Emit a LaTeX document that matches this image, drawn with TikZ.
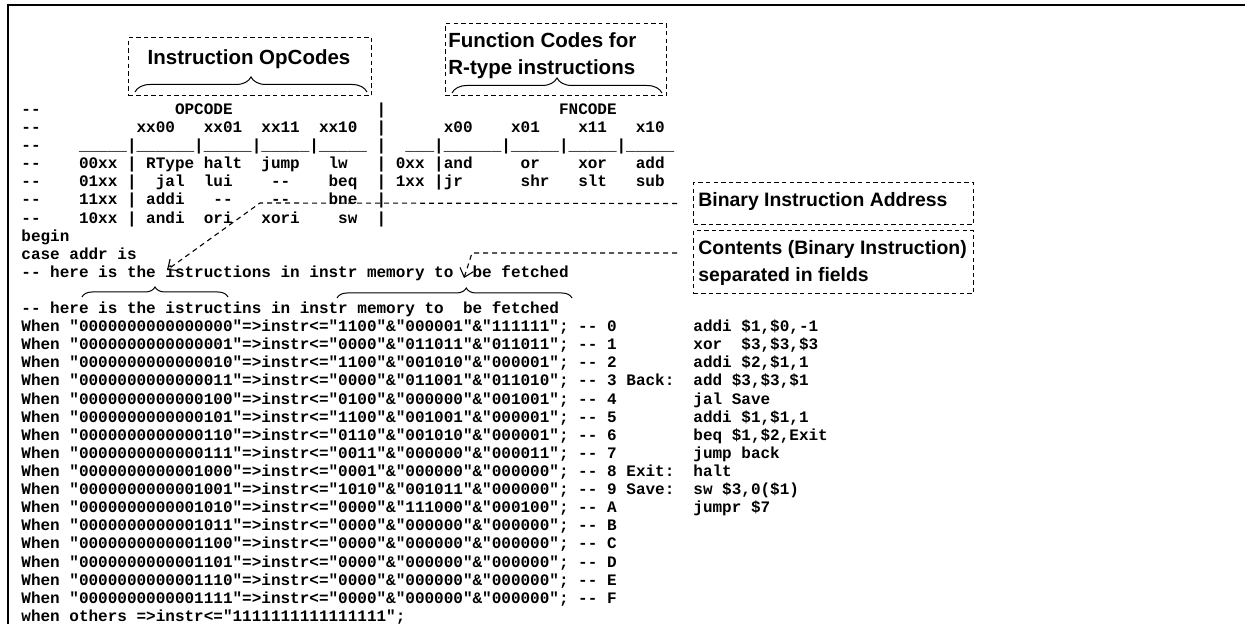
\documentclass[tikz,border=0pt]{standalone}
\usepackage{fontspec}
\setmainfont{Liberation Sans}
\setmonofont{Liberation Mono}
\usetikzlibrary{arrows.meta,positioning,calc,decorations.pathreplacing}

% n empty cells of the (monospaced) code font
\newcommand\blanks[1]{\hspace*{#1\fontcharwd\font`\0}}
% one entry of the instruction ROM
\newcommand\romline[5]{When "#1"=>instr<="#2"\&"#3"\&"#4"; -- #5}

\begin{document}
\begin{tikzpicture}[x=0.5pt, y=-0.5pt,
    code/.style={anchor=base west, inner sep=0pt,
      font=\fontsize{8pt}{9pt}\selectfont\ttfamily\bfseries\frenchspacing},
    notefont/.style={inner sep=0pt, font=\fontsize{10.25pt}{13.5pt}\selectfont\bfseries},
    smallnote/.style={inner sep=0pt, anchor=base west, font=\fontsize{9.7pt}{13.5pt}\selectfont\bfseries},
    notebox/.style={draw, line width=0.55pt, dash pattern=on 2.2pt off 1.6pt,
      inner sep=0pt, anchor=north west},
    pointer/.style={line width=0.55pt, dash pattern=on 2.5pt off 2pt,
      -{Straight Barb[length=4pt,width=7pt]}},
    fieldbrace/.style={decorate, line width=0.5pt, decoration={brace, amplitude=#1}}]

    \useasboundingbox (0,0) rectangle (1245,624);

    % frame
    \draw[line width=1.3pt] (8,624) -- (8,5) -- (1245,5);

    % opcode / function code table
    \node[code] (hdr)  at (21,114.5) {--\blanks{14}OPCODE\blanks{15}|\blanks{18}FNCODE};
    \node[code] (cols) at (21,132.6) {--\blanks{10}xx00\blanks{3}xx01\blanks{2}xx11\blanks{2}xx10\blanks{2}|\blanks{6}x00\blanks{4}x01\blanks{4}x11\blanks{3}x10};
    \node[code] (sep)  at (21,150.7) {--\blanks{4}\_\_\_\_\_|\_\_\_\_\_\_|\_\_\_\_\_|\_\_\_\_\_|\_\_\_\_\_\blanks{1}|\blanks{2}\_\_\_|\_\_\_\_\_\_|\_\_\_\_\_|\_\_\_\_\_|\_\_\_\_\_};
    \node[code] (opa)  at (21,168.8) {--\blanks{4}00xx\blanks{1}|\blanks{1}RType\blanks{1}halt\blanks{2}jump\blanks{3}lw\blanks{3}|\blanks{1}0xx\blanks{1}|and\blanks{5}or\blanks{4}xor\blanks{3}add};
    \node[code] (opb)  at (21,186.9) {--\blanks{4}01xx\blanks{1}|\blanks{2}jal\blanks{2}lui\blanks{4}--\blanks{4}beq\blanks{2}|\blanks{1}1xx\blanks{1}|jr\blanks{6}shr\blanks{3}slt\blanks{3}sub};
    \node[code] (opc)  at (21,205)   {--\blanks{4}11xx\blanks{1}|\blanks{1}addi\blanks{3}--\blanks{4}--\blanks{4}bne\blanks{2}|};
    \node[code] (opd)  at (21,223.1) {--\blanks{4}10xx\blanks{1}|\blanks{1}andi\blanks{2}ori\blanks{3}xori\blanks{4}sw\blanks{2}|};

    \node[code] (beg)  at (21,241.2) {begin};
    \node[code] (case) at (21,259.3) {case addr is};
    \node[code] (cmta) at (21,277.4) {-- here is the istructions in instr memory to\blanks{2}be fetched};
    \node[code] (cmtb) at (21,313.6) {-- here is the istructins in instr memory to\blanks{2}be fetched};

    % ROM contents
    \node[code] (w0) at (21,331.7) {\romline{0000000000000000}{1100}{000001}{111111}{0}};
    \node[code] (w1) at (21,349.8) {\romline{0000000000000001}{0000}{011011}{011011}{1}};
    \node[code] (w2) at (21,367.9) {\romline{0000000000000010}{1100}{001010}{000001}{2}};
    \node[code] (w3) at (21,386.0) {\romline{0000000000000011}{0000}{011001}{011010}{3}};
    \node[code] (w4) at (21,404.1) {\romline{0000000000000100}{0100}{000000}{001001}{4}};
    \node[code] (w5) at (21,422.2) {\romline{0000000000000101}{1100}{001001}{000001}{5}};
    \node[code] (w6) at (21,440.3) {\romline{0000000000000110}{0110}{001010}{000001}{6}};
    \node[code] (w7) at (21,458.4) {\romline{0000000000000111}{0011}{000000}{000011}{7}};
    \node[code] (w8) at (21,476.5) {\romline{0000000000001000}{0001}{000000}{000000}{8}};
    \node[code] (w9) at (21,494.6) {\romline{0000000000001001}{1010}{001011}{000000}{9}};
    \node[code] (wa) at (21,512.7) {\romline{0000000000001010}{0000}{111000}{000100}{A}};
    \node[code] (wb) at (21,530.8) {\romline{0000000000001011}{0000}{000000}{000000}{B}};
    \node[code] (wc) at (21,548.9) {\romline{0000000000001100}{0000}{000000}{000000}{C}};
    \node[code] (wd) at (21,567.0) {\romline{0000000000001101}{0000}{000000}{000000}{D}};
    \node[code] (we) at (21,585.1) {\romline{0000000000001110}{0000}{000000}{000000}{E}};
    \node[code] (wf) at (21,603.2) {\romline{0000000000001111}{0000}{000000}{000000}{F}};
    \node[code] (oth) at (21,621.3) {when others =>instr<="1111111111111111";};

    % labels and assembly
    \node[code] (back) at (626,386.0) {Back:};
    \node[code] (exit) at (626,476.5) {Exit:};
    \node[code] (save) at (626,494.6) {Save:};
    \node[code] (i0) at (693,331.7) {addi \$1,\$0,-1};
    \node[code] (i1) at (693,349.8) {xor\blanks{2}\$3,\$3,\$3};
    \node[code] (i2) at (693,367.9) {addi \$2,\$1,1};
    \node[code] (i3) at (693,386.0) {add \$3,\$3,\$1};
    \node[code] (i4) at (693,404.1) {jal Save};
    \node[code] (i5) at (693,422.2) {addi \$1,\$1,1};
    \node[code] (i6) at (693,440.3) {beq \$1,\$2,Exit};
    \node[code] (i7) at (693,458.4) {jump back};
    \node[code] (i8) at (693,476.5) {halt};
    \node[code] (i9) at (693,494.6) {sw \$3,0(\$1)};
    \node[code] (ia) at (693,512.7) {jumpr \$7};

    % notes
    \node[notebox, minimum width=121.5pt, minimum height=29pt] (opbox) at (128,37) {};
    \node[notefont, anchor=base] (optext) at (249,65) {Instruction OpCodes};
    \node[notebox, minimum width=110.5pt, minimum height=36pt] (fnbox) at (445,23) {};
    \node[notefont, anchor=base west] (fntexta) at (448,48) {Function Codes for};
    \node[notefont, anchor=base west] (fntextb) at (448,75) {R-type instructions};
    \node[notebox, minimum width=140pt, minimum height=21pt] (addrbox) at (693,182) {};
    \node[smallnote] (addrtext) at (698,207) {Binary Instruction Address};
    \node[notebox, minimum width=140pt, minimum height=31.5pt] (contbox) at (693,230) {};
    \node[smallnote] (conttexta) at (698,255) {Contents (Binary Instruction)};
    \node[smallnote] (conttextb) at (698,282) {separated in fields};

    % braces over the fields
    \draw[fieldbrace=7.5pt] (135,92) -- (367,92);
    \draw[fieldbrace=7.5pt] (452,93) -- (662,93);
    \draw[fieldbrace=5pt] (82,297) -- (228,297);
    \draw[fieldbrace=5pt, decoration={aspect=0.55}] (337,298) -- (572,298);

    % pointers from the notes
    \coordinate (addrbend) at (260,203);
    \coordinate (addrtip) at (167,270);
    \draw[pointer, shorten <=8pt] (addrbox.west) -- (addrbend) -- (addrtip);
    \coordinate (contbend) at (472,253);
    \coordinate (conttip) at (464,278);
    \draw[pointer, shorten <=8pt] (contbend -| contbox.west) -- (contbend) -- (conttip);
\end{tikzpicture}
\end{document}
